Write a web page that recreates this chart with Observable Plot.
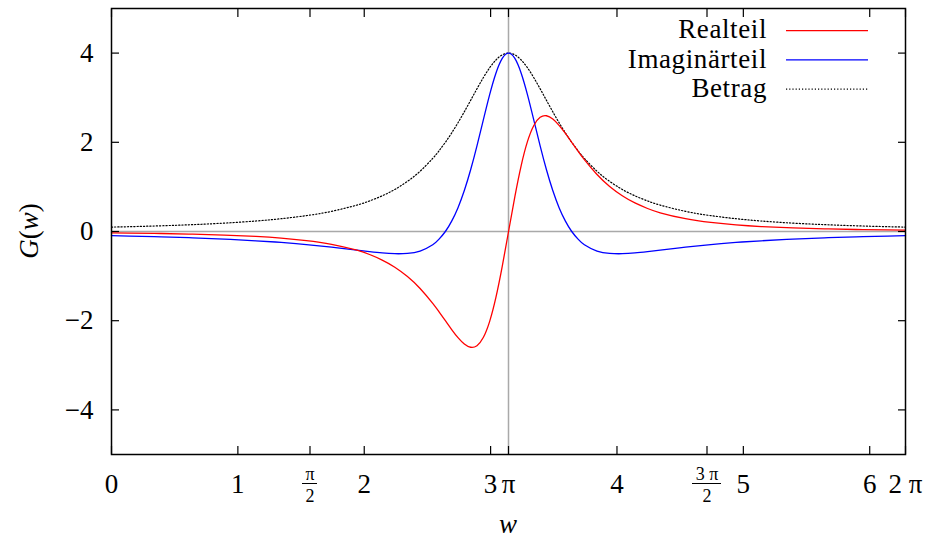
<!DOCTYPE html>
<html>
<head>
<meta charset="utf-8">
<script src="https://cdn.jsdelivr.net/npm/d3@7"></script>
<script src="https://cdn.jsdelivr.net/npm/@observablehq/plot@0.6"></script>
</head>
<body style="margin:0;background:#fff">
<div id="chart"></div>
<script>
// ---- data ----
const w = [0, 0.142, 0.392, 0.642, 0.892, 1.142, 1.342, 1.542, 1.742, 1.942, 2.042, 2.142, 2.242, 2.342, 2.442, 2.542, 2.592, 2.642, 2.692, 2.742, 2.792, 2.842, 2.892, 2.942, 2.992, 3.042, 3.092,
  3.142,
  3.192, 3.242, 3.292, 3.342, 3.392, 3.442, 3.492, 3.542, 3.592, 3.642, 3.692, 3.742, 3.842, 3.942, 4.042, 4.142, 4.242, 4.342, 4.542, 4.742, 4.942, 5.142, 5.392, 5.642, 5.892, 6.142, 6.283];
const realteil = [-0.031, -0.035, -0.045, -0.059, -0.080, -0.111, -0.148, -0.203, -0.287, -0.420, -0.516, -0.640, -0.801, -1.010, -1.278, -1.612, -1.802, -2.000, -2.198, -2.380, -2.522, -2.595, -2.560, -2.378, -2.020, -1.479, -0.784,
  0,
  0.784, 1.479, 2.020, 2.378, 2.560, 2.595, 2.522, 2.380, 2.198, 2.000, 1.802, 1.612, 1.278, 1.010, 0.801, 0.640, 0.516, 0.420, 0.287, 0.203, 0.148, 0.111, 0.080, 0.059, 0.045, 0.035, 0.031];
const imaginaerteil = [-0.094, -0.102, -0.120, -0.142, -0.171, -0.208, -0.245, -0.292, -0.350, -0.417, -0.450, -0.480, -0.498, -0.492, -0.438, -0.296, -0.172, 0, 0.232, 0.535, 0.919, 1.384, 1.920, 2.497, 3.064, 3.550, 3.882,
  4,
  3.882, 3.550, 3.064, 2.497, 1.920, 1.384, 0.919, 0.535, 0.232, 0, -0.172, -0.296, -0.438, -0.492, -0.498, -0.480, -0.450, -0.417, -0.350, -0.292, -0.245, -0.208, -0.171, -0.142, -0.120, -0.102, -0.094];
const betrag = [0.099, 0.108, 0.128, 0.154, 0.188, 0.235, 0.287, 0.356, 0.452, 0.592, 0.685, 0.800, 0.943, 1.124, 1.351, 1.639, 1.810, 2.000, 2.210, 2.439, 2.685, 2.941, 3.200, 3.448, 3.670, 3.846, 3.960,
  4,
  3.960, 3.846, 3.670, 3.448, 3.200, 2.941, 2.685, 2.439, 2.210, 2.000, 1.810, 1.639, 1.351, 1.124, 0.943, 0.800, 0.685, 0.592, 0.452, 0.356, 0.287, 0.235, 0.188, 0.154, 0.128, 0.108, 0.099];

const xTicks = [0, 1, Math.PI / 2, 2, 3, Math.PI, 4, 3 * Math.PI / 2, 5, 6, 2 * Math.PI];
const xTickLabels = ["0", "1", "", "2", "3", "π", "4", "", "5", "6", "2 π"];
const fracTicks = [Math.PI / 2, 3 * Math.PI / 2];
const fracNumerators = ["π", "3 π"];
const fracDenominators = ["2", "2"];
const yTicks = [-4, -2, 0, 2, 4];
const yTickLabels = ["−4", "−2", "0", "2", "4"];
const seriesNames = ["Realteil", "Imaginärteil", "Betrag"];
const refLinesX = [Math.PI];
const refLinesY = [0];

// ---- build table ----
const rows = w.map((x, i) => ({w: x, re: realteil[i], im: imaginaerteil[i], abs: betrag[i]}));

const FONT = "Liberation Serif";
const FS = 27;
const chart = Plot.plot({
  width: 928,
  height: 540,
  marginLeft: 111,
  marginRight: 23,
  marginTop: 8,
  marginBottom: 86,
  x: {domain: [0, 2 * Math.PI]},
  y: {domain: [-5, 5]},
  style: "font-family: 'Liberation Serif'; font-size: 27px; background: white; color: black;",
  marks: [
    Plot.ruleY(refLinesY, {stroke: "#a9a9a9", strokeWidth: 1.5}),
    Plot.ruleX(refLinesX, {stroke: "#a9a9a9", strokeWidth: 1.5}),
    Plot.line(rows, {x: "w", y: "abs", stroke: "black", strokeWidth: 1.2, strokeDasharray: "1.2,2", curve: "natural"}),
    Plot.line(rows, {x: "w", y: "im", stroke: "#0000ff", strokeWidth: 1.3, curve: "natural"}),
    Plot.line(rows, {x: "w", y: "re", stroke: "#ff0000", strokeWidth: 1.3, curve: "natural"}),
    // inward tick marks on all four sides
    Plot.axisX(xTicks, {anchor: "bottom", tickSize: -8, tickFormat: () => "", label: null, strokeWidth: 1.2}),
    Plot.axisX(xTicks, {anchor: "top", tickSize: -8, tickFormat: () => "", label: null, strokeWidth: 1.2}),
    Plot.axisY(yTicks, {anchor: "left", tickSize: -8, tickFormat: () => "", label: null, strokeWidth: 1.2}),
    Plot.axisY(yTicks, {anchor: "right", tickSize: -8, tickFormat: () => "", label: null, strokeWidth: 1.2}),
    // tick labels
    Plot.axisX(xTicks, {anchor: "bottom", tickSize: 0, tickPadding: 19, fontSize: FS, fontFamily: FONT, label: null,
      tickFormat: d => xTickLabels[xTicks.indexOf(d)]}),
    Plot.axisY(yTicks, {anchor: "left", tickSize: 0, tickPadding: 18, fontSize: FS, fontFamily: FONT, label: null,
      tickFormat: d => yTickLabels[yTicks.indexOf(d)]}),
    Plot.text(fracTicks, {x: d => d, frameAnchor: "bottom", dy: 20, lineAnchor: "middle", fontSize: 18, fontFamily: FONT,
      text: (d, i) => fracNumerators[i]}),
    Plot.text(fracTicks, {x: d => d, frameAnchor: "bottom", dy: 42, lineAnchor: "middle", fontSize: 18, fontFamily: FONT,
      text: (d, i) => fracDenominators[i]}),
    Plot.frame({stroke: "black", strokeWidth: 1.5})
  ]
});

document.getElementById("chart").appendChild(chart);

// ---- decorations: fraction bars, axis titles, legend ----
const svg = d3.select(chart);
const xs = chart.scale("x");
const fracBarHalf = [7.5, 14.5];
fracTicks.forEach((v, i) => {
  const cx = xs.apply(v);
  svg.append("line")
    .attr("x1", cx - fracBarHalf[i]).attr("x2", cx + fracBarHalf[i])
    .attr("y1", 483.5).attr("y2", 483.5)
    .attr("stroke", "black").attr("stroke-width", 1);
});

// y-axis title G(w)
const yt = svg.append("text")
  .attr("transform", "translate(38,231) rotate(-90)")
  .attr("text-anchor", "middle")
  .attr("font-size", FS);
yt.append("tspan").attr("font-style", "italic").text("G");
yt.append("tspan").text("(");
yt.append("tspan").attr("font-style", "italic").text("w");
yt.append("tspan").text(")");

// x-axis title w
svg.append("text")
  .attr("x", 508).attr("y", 533)
  .attr("text-anchor", "middle")
  .attr("font-size", FS)
  .attr("font-style", "italic")
  .text("w");

// legend
const legendStroke = ["#ff0000", "#0000ff", "black"];
const legendDash = [null, null, "1.2,2"];
const legendWidth = [1.3, 1.3, 1.2];
seriesNames.forEach((name, i) => {
  const base = 38.3 + i * 29.2;
  svg.append("text")
    .attr("x", 767).attr("y", base)
    .attr("text-anchor", "end")
    .attr("font-size", FS)
    .attr("letter-spacing", "0.6px")
    .text(name);
  svg.append("line")
    .attr("x1", 786).attr("x2", 868)
    .attr("y1", base - 7.6).attr("y2", base - 7.6)
    .attr("stroke", legendStroke[i])
    .attr("stroke-width", legendWidth[i])
    .attr("stroke-dasharray", legendDash[i]);
});

// force the serif face on every text node (inline, important)
svg.selectAll("text, tspan").each(function () {
  this.setAttribute("font-family", FONT);
  this.style.setProperty("font-family", "'Liberation Serif', serif", "important");
});
</script>
</body>
</html>
